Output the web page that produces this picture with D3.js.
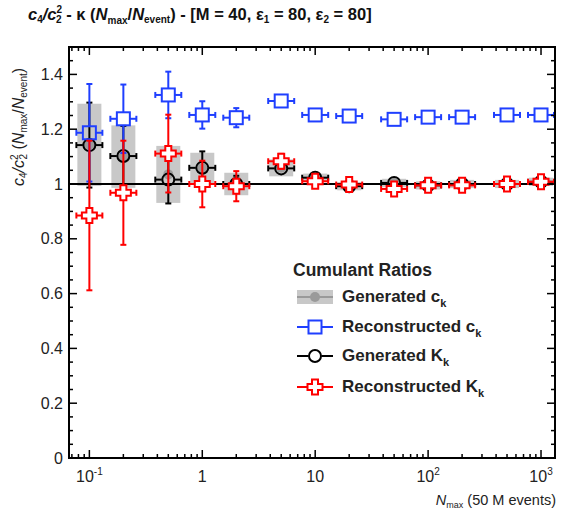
<!DOCTYPE html>
<html>
<head>
<meta charset="utf-8">
<script src="https://cdn.jsdelivr.net/npm/d3@7"></script>
<style>
  body { margin: 0; background: #fff; }
  svg { font-family: "Liberation Sans", Arial, Helvetica, sans-serif; }
</style>
</head>
<body>
<svg id="chart" width="563" height="510"></svg>
<script>
// values
const nmax = [0.1, 0.2, 0.5, 1, 2, 5, 10, 20, 50, 100, 200, 500, 1000];

const genC    = [1.143, 1.100, 1.035, 1.058, 1.000, 1.059, 1.023, 0.992, 1.004, 0.995, 1.000, 1.000, 1.008];
const genCErr = [0.150, 0.114, 0.104, 0.056, 0.041, 0.031, 0.015, 0.015, 0.015, 0.015, 0.015, 0.015, 0.015];

const recC    = [1.187, 1.238, 1.325, 1.252, 1.242, 1.303, 1.252, 1.248, 1.236, 1.244, 1.244, 1.252, 1.252];
const recCErr = [0.178, 0.125, 0.085, 0.050, 0.035, 0.012, 0.008, 0.007, 0.006, 0.005, 0.004, 0.004, 0.004];

const genK    = [1.142, 1.102, 1.016, 1.059, 1.000, 1.057, 1.023, 0.992, 1.004, 0.995, 1.000, 1.000, 1.008];
const genKErr = [0.155, 0.110, 0.087, 0.060, 0.030, 0.012, 0.010, 0.008, 0.006, 0.005, 0.004, 0.004, 0.004];

const recK    = [0.885, 0.968, 1.111, 1.000, 0.992, 1.083, 1.010, 0.998, 0.982, 0.995, 0.995, 1.000, 1.008];
const recKErr = [0.273, 0.190, 0.142, 0.085, 0.055, 0.027, 0.012, 0.010, 0.008, 0.006, 0.005, 0.005, 0.005];

const yTickLabels = ["0", "0.2", "0.4", "0.6", "0.8", "1", "1.2", "1.4"];
const xTickLabels = [["10", "-1"], ["1", ""], ["10", ""], ["10", "2"], ["10", "3"]];

const legendItems = [
  { key: "genC", base: "Generated c", sub: "k" },
  { key: "recC", base: "Reconstructed c", sub: "k" },
  { key: "genK", base: "Generated K", sub: "k" },
  { key: "recK", base: "Reconstructed K", sub: "k" }
];

const svg = d3.select("#chart");
const pLeft = 69, pRight = 555, pTop = 47, pBottom = 458;

const x = d3.scaleLog().domain([0.066, 1330]).range([pLeft, pRight]);
const y = d3.scaleLinear().domain([0, 1.5]).range([pBottom, pTop]);

const halfX = 13;   // horizontal error bar half width (px)
const ms = 6.5;     // marker half size
const cap = 3;

// ---- generated c_k : grey boxes
const gBox = svg.append("g");
nmax.forEach((n, i) => {
  gBox.append("rect")
    .attr("x", x(n) - 12).attr("width", 24)
    .attr("y", y(genC[i] + genCErr[i]))
    .attr("height", y(genC[i] - genCErr[i]) - y(genC[i] + genCErr[i]))
    .attr("fill", "#c8c8c8");
  gBox.append("circle").attr("cx", x(n)).attr("cy", y(genC[i])).attr("r", 5).attr("fill", "#9a9a9a");
});

// line at 1
svg.append("line").attr("x1", pLeft).attr("x2", pRight).attr("y1", y(1)).attr("y2", y(1))
  .attr("stroke", "#000").attr("stroke-width", 2);

function crossPath(s) {
  const a = s * 0.4;
  return `M${-a},${-s}H${a}V${-a}H${s}V${a}H${a}V${s}H${-a}V${a}H${-s}V${-a}H${-a}Z`;
}

function drawMarker(g, marker, cx, cy) {
  if (marker === "square") {
    g.append("rect").attr("x", cx - ms).attr("y", cy - ms).attr("width", 2 * ms).attr("height", 2 * ms);
  } else if (marker === "circle") {
    g.append("circle").attr("cx", cx).attr("cy", cy).attr("r", ms - 0.5);
  } else {
    g.append("path").attr("d", crossPath(ms + 1)).attr("transform", `translate(${cx},${cy})`)
      .attr("fill", "#fff");
  }
}

function drawSeries(vals, errs, color, marker) {
  const g = svg.append("g").attr("stroke", color).attr("stroke-width", 2).attr("fill", "none");
  nmax.forEach((n, i) => {
    const cx = x(n), cy = y(vals[i]);
    const yt = y(vals[i] + errs[i]), yb = y(vals[i] - errs[i]);
    // vertical error
    if (cy - yt > ms) {
      g.append("line").attr("x1", cx).attr("x2", cx).attr("y1", yt).attr("y2", cy - ms);
      g.append("line").attr("x1", cx).attr("x2", cx).attr("y1", cy + ms).attr("y2", yb);
      g.append("line").attr("x1", cx - cap).attr("x2", cx + cap).attr("y1", yt).attr("y2", yt);
      g.append("line").attr("x1", cx - cap).attr("x2", cx + cap).attr("y1", yb).attr("y2", yb);
    }
    // horizontal error
    g.append("line").attr("x1", cx - halfX).attr("x2", cx - ms).attr("y1", cy).attr("y2", cy);
    g.append("line").attr("x1", cx + ms).attr("x2", cx + halfX).attr("y1", cy).attr("y2", cy);
    g.append("line").attr("x1", cx - halfX).attr("x2", cx - halfX).attr("y1", cy - cap).attr("y2", cy + cap);
    g.append("line").attr("x1", cx + halfX).attr("x2", cx + halfX).attr("y1", cy - cap).attr("y2", cy + cap);
    drawMarker(g, marker, cx, cy);
  });
}

drawSeries(genK, genKErr, "#000", "circle");
drawSeries(recC, recCErr, "#1f3fff", "square");
drawSeries(recK, recKErr, "#ff0000", "cross");

// ---- frame and ticks
const frame = svg.append("g").attr("stroke", "#000");
frame.append("rect").attr("x", pLeft).attr("y", pTop).attr("width", pRight - pLeft).attr("height", pBottom - pTop)
  .attr("fill", "none").attr("stroke-width", 2);

x.ticks().filter(t => x(t) >= pLeft && x(t) <= pRight).forEach(t => {
  const major = Math.abs(Math.log10(t) - Math.round(Math.log10(t))) < 1e-9;
  const len = major ? 8 : 4;
  frame.append("line").attr("x1", x(t)).attr("x2", x(t)).attr("y1", pBottom).attr("y2", pBottom - len).attr("stroke-width", 1.5);
  frame.append("line").attr("x1", x(t)).attr("x2", x(t)).attr("y1", pTop).attr("y2", pTop + len).attr("stroke-width", 1.5);
});

d3.range(0, 1.5001, 0.05).forEach(t => {
  const major = Math.abs(t / 0.2 - Math.round(t / 0.2)) < 1e-6;
  const len = major ? 8 : 4;
  frame.append("line").attr("x1", pLeft).attr("x2", pLeft + len).attr("y1", y(t)).attr("y2", y(t)).attr("stroke-width", 1.5);
  frame.append("line").attr("x1", pRight).attr("x2", pRight - len).attr("y1", y(t)).attr("y2", y(t)).attr("stroke-width", 1.5);
});

// y tick labels
const yMajors = d3.range(0, 1.5, 0.2);
svg.append("g").selectAll("text").data(yMajors).join("text")
  .attr("x", pLeft - 6).attr("y", d => y(d) + 5.5)
  .attr("text-anchor", "end").attr("font-size", 16).attr("fill", "#222")
  .text((d, i) => yTickLabels[i]);

// x tick labels
const xMajors = [0.1, 1, 10, 100, 1000];
const xl = svg.append("g").attr("font-size", 16).attr("fill", "#222");
xMajors.forEach((t, i) => {
  const lab = xTickLabels[i];
  const tx = xl.append("text").attr("x", x(t)).attr("y", 482).attr("text-anchor", "middle");
  tx.append("tspan").text(lab[0]);
  if (lab[1]) tx.append("tspan").attr("dy", -7).attr("font-size", 10).text(lab[1]);
});

// x axis title
const xt = svg.append("text").attr("x", 556).attr("y", 505).attr("text-anchor", "end")
  .attr("font-size", 14.5).attr("fill", "#222");
xt.append("tspan").attr("font-style", "italic").text("N");
xt.append("tspan").attr("dy", 3).attr("font-size", 9).text("max");
xt.append("tspan").attr("dy", -3).text(" (50 M events)");

// y axis title
const yt = svg.append("text").attr("transform", "translate(24,127) rotate(-90)")
  .attr("text-anchor", "middle").attr("font-size", 16).attr("fill", "#222");
yt.append("tspan").attr("font-style", "italic").text("c");
yt.append("tspan").attr("dy", 3).attr("font-size", 10).text("4");
yt.append("tspan").attr("dy", -3).attr("font-style", "italic").text("/c");
yt.append("tspan").attr("dy", -6).attr("font-size", 10).text("2");
yt.append("tspan").attr("dx", -5).attr("dy", 9).attr("font-size", 10).text("2");
yt.append("tspan").attr("dy", -3).text(" (");
yt.append("tspan").attr("font-style", "italic").text("N");
yt.append("tspan").attr("dy", 3).attr("font-size", 10).text("max");
yt.append("tspan").attr("dy", -3).text("/");
yt.append("tspan").attr("font-style", "italic").text("N");
yt.append("tspan").attr("dy", 3).attr("font-size", 10).text("event");
yt.append("tspan").attr("dy", -3).text(")");

// title
const tt = svg.append("text").attr("x", 28).attr("y", 20).attr("font-size", 16.5)
  .attr("font-weight", "bold").attr("fill", "#111");
tt.append("tspan").attr("font-style", "italic").text("c");
tt.append("tspan").attr("dy", 3).attr("font-size", 10).text("4");
tt.append("tspan").attr("dy", -3).attr("font-style", "italic").text("/c");
tt.append("tspan").attr("dy", -7).attr("font-size", 10).text("2");
tt.append("tspan").attr("dx", -6).attr("dy", 10).attr("font-size", 10).text("2");
tt.append("tspan").attr("dy", -3).text(" - κ (");
tt.append("tspan").attr("font-style", "italic").text("N");
tt.append("tspan").attr("dy", 4).attr("font-size", 10).text("max");
tt.append("tspan").attr("dy", -4).text("/");
tt.append("tspan").attr("font-style", "italic").text("N");
tt.append("tspan").attr("dy", 3).attr("font-size", 10).text("event");
tt.append("tspan").attr("dy", -3).text(") - [M = 40, ε");
tt.append("tspan").attr("dy", 3).attr("font-size", 10).text("1");
tt.append("tspan").attr("dy", -3).text(" = 80, ε");
tt.append("tspan").attr("dy", 3).attr("font-size", 10).text("2");
tt.append("tspan").attr("dy", -3).text(" = 80]");

// ---- legend
const lg = svg.append("g").attr("transform", "translate(293,0)");
lg.append("text").attr("x", 0).attr("y", 276).attr("font-size", 17.5).attr("font-weight", "bold")
  .attr("fill", "#222").text("Cumulant Ratios");
const ly = [297, 327, 356, 387];
legendItems.forEach((d, i) => {
  const g = lg.append("g").attr("transform", `translate(22,${ly[i]})`);
  if (d.key === "genC") {
    g.append("rect").attr("x", -18).attr("y", -7).attr("width", 36).attr("height", 14).attr("fill", "#c8c8c8");
    g.append("line").attr("x1", -18).attr("x2", 18).attr("stroke", "#9a9a9a").attr("stroke-width", 2);
    g.append("circle").attr("r", 5).attr("fill", "#9a9a9a");
  } else {
    const col = d.key === "recC" ? "#1f3fff" : d.key === "genK" ? "#000" : "#ff0000";
    const mk = d.key === "recC" ? "square" : d.key === "genK" ? "circle" : "cross";
    const sg = g.append("g").attr("stroke", col).attr("stroke-width", 2).attr("fill", "none");
    sg.append("line").attr("x1", -18).attr("x2", -ms);
    sg.append("line").attr("x1", ms).attr("x2", 18);
    drawMarker(sg, mk, 0, 0);
  }
  const t = lg.append("text").attr("x", 49).attr("y", ly[i] + 5).attr("font-size", 17)
    .attr("font-weight", "bold").attr("fill", "#222");
  t.append("tspan").text(d.base);
  t.append("tspan").attr("dy", 5).attr("font-size", 11).text(d.sub);
});
</script>
</body>
</html>
